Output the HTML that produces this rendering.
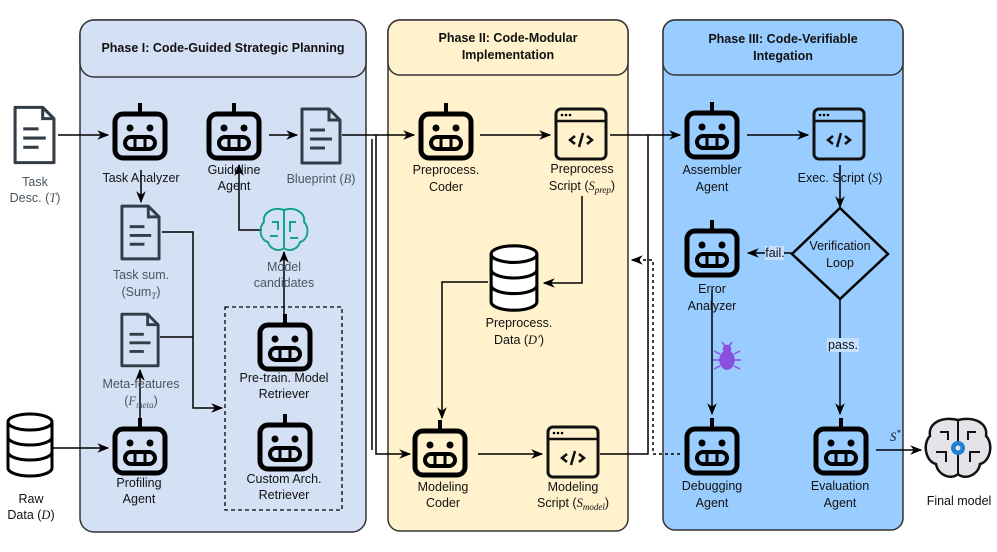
<!DOCTYPE html>
<html><head><meta charset="utf-8"><style>
html,body{margin:0;padding:0;background:#fff;overflow:hidden;}
svg{display:block;}
svg text{font-family:"Liberation Sans",sans-serif;font-size:12.5px;fill:#111;}
.g text{fill:#4a5561;}
.h{font-weight:bold;font-size:12.5px;}
.i{font-family:"Liberation Serif",serif;font-style:italic;}
</style></head><body>
<svg width="997" height="552" viewBox="0 0 997 552" xmlns="http://www.w3.org/2000/svg">
<defs>
<symbol id="rb" viewBox="0 0 56 58">
<line x1="28" y1="0" x2="28" y2="11" stroke="#000" stroke-width="4"/>
<rect x="3" y="11" width="50" height="44" rx="8" fill="none" stroke="#000" stroke-width="5"/>
<circle cx="18" cy="25" r="3.5"/><circle cx="38" cy="25" r="3.5"/>
<rect x="13" y="34" width="30" height="12" rx="6" fill="none" stroke="#000" stroke-width="4"/>
<line x1="23" y1="35" x2="23" y2="45" stroke="#000" stroke-width="3"/><line x1="33" y1="35" x2="33" y2="45" stroke="#000" stroke-width="3"/>
</symbol>
<symbol id="doc" viewBox="0 0 44 60">
<path d="M3 3 H30 L41 14 V57 H3 Z" fill="none" stroke="#333d47" stroke-width="3" stroke-linejoin="round"/>
<path d="M30 3 V14 H41" fill="none" stroke="#333d47" stroke-width="3"/>
<line x1="11" y1="24" x2="26" y2="24" stroke="#333d47" stroke-width="3"/>
<line x1="11" y1="33" x2="33" y2="33" stroke="#333d47" stroke-width="3"/>
<line x1="11" y1="42" x2="26" y2="42" stroke="#333d47" stroke-width="3"/>
</symbol>
<symbol id="scr" viewBox="0 0 54 54">
<rect x="2" y="2" width="50" height="50" rx="5" fill="none" stroke="#111" stroke-width="3"/>
<line x1="2" y1="14" x2="52" y2="14" stroke="#111" stroke-width="2.5"/>
<circle cx="8" cy="8" r="1.3"/><circle cx="12" cy="8" r="1.3"/><circle cx="16" cy="8" r="1.3"/>
<path d="M21 29 L16 33 L21 37 M33 29 L38 33 L33 37 M29 26 L25 40" fill="none" stroke="#111" stroke-width="2.5"/>
</symbol>
<symbol id="db" viewBox="0 0 50 66">
<path d="M3 10 V56 A22 8 0 0 0 47 56 V10" fill="#fff" stroke="#000" stroke-width="3"/>
<ellipse cx="25" cy="10" rx="22" ry="8" fill="#fff" stroke="#000" stroke-width="3"/>
<path d="M3 25 A22 8 0 0 0 47 25 M3 40 A22 8 0 0 0 47 40" fill="none" stroke="#000" stroke-width="3"/>
</symbol>
<marker id="ar" viewBox="0 0 10 10" refX="9" refY="5" markerWidth="8" markerHeight="8" orient="auto-start-reverse"><path d="M0 1 L10 5 L0 9 L3 5 Z" fill="#000"/></marker>
</defs>

<rect x="80" y="20" width="286" height="512" rx="14" fill="#d4e1f5" stroke="#333" stroke-width="1.5"/>
<rect x="80" y="20" width="286" height="57" rx="14" fill="#d4e1f5" stroke="#333" stroke-width="1.5"/>
<text x="223" y="52" text-anchor="middle" class="h">Phase I: Code-Guided Strategic Planning</text>
<rect x="388" y="20" width="240" height="511" rx="12" fill="#fff2cc" stroke="#333" stroke-width="1.5"/>
<rect x="388" y="20" width="240" height="55" rx="12" fill="#fff2cc" stroke="#333" stroke-width="1.5"/>
<text x="508" y="42" text-anchor="middle" class="h">Phase II: Code-Modular</text>
<text x="508" y="59" text-anchor="middle" class="h">Implementation</text>
<rect x="663" y="20" width="240" height="510" rx="12" fill="#99ccff" stroke="#333" stroke-width="1.5"/>
<rect x="663" y="20" width="240" height="55" rx="12" fill="#99ccff" stroke="#333" stroke-width="1.5"/>
<text x="783" y="43" text-anchor="middle" class="h">Phase III: Code-Verifiable</text>
<text x="783" y="60" text-anchor="middle" class="h">Integation</text>

<rect x="225" y="307" width="117" height="203" fill="none" stroke="#000" stroke-width="1.3" stroke-dasharray="4 3"/>

<g stroke="#000" stroke-width="1.5" fill="none">
<line x1="58" y1="135" x2="108" y2="135" marker-end="url(#ar)"/>
<line x1="141" y1="170" x2="141" y2="202" marker-end="url(#ar)"/>
<polyline points="162,232 193,232 193,408 222,408" marker-end="url(#ar)"/>
<line x1="160" y1="337" x2="193" y2="337"/>
<line x1="140" y1="418" x2="140" y2="370" marker-end="url(#ar)"/>
<line x1="52" y1="448" x2="108" y2="448" marker-end="url(#ar)"/>
<line x1="284" y1="314" x2="284" y2="252" marker-end="url(#ar)"/>
<polyline points="262,230 239,230 239,165" marker-end="url(#ar)"/>
<line x1="269" y1="135" x2="297" y2="135" marker-end="url(#ar)"/>
<line x1="342" y1="135" x2="414" y2="135" marker-end="url(#ar)"/>
<polyline points="376,135 376,454 410,454" marker-end="url(#ar)"/>
<line x1="372" y1="139" x2="372" y2="450" />
<line x1="480" y1="135" x2="550" y2="135" marker-end="url(#ar)"/>
<polyline points="582,196 582,283 544,283" marker-end="url(#ar)"/>
<polyline points="488,282 442,282 442,418" marker-end="url(#ar)"/>
<line x1="478" y1="454" x2="542" y2="454" marker-end="url(#ar)"/>
<line x1="610" y1="135" x2="680" y2="135" marker-end="url(#ar)"/>
<polyline points="600,454 648,454 648,135"/>
<line x1="747" y1="135" x2="808" y2="135" marker-end="url(#ar)"/>
<line x1="840" y1="165" x2="840" y2="207" marker-end="url(#ar)"/>
<line x1="792" y1="253" x2="748" y2="253" marker-end="url(#ar)"/>
<line x1="712" y1="290" x2="712" y2="414" marker-end="url(#ar)"/>
<line x1="840" y1="300" x2="840" y2="414" marker-end="url(#ar)"/>
<line x1="876" y1="450" x2="921" y2="450" marker-end="url(#ar)"/>
<polyline points="680,454 653,454 653,260 632,260" stroke-dasharray="3 3" marker-end="url(#ar)"/>
</g>

<polygon points="840,208 888,254 840,299 792,254" fill="#99ccff" stroke="#000" stroke-width="2.5"/>
<text x="840" y="250" text-anchor="middle">Verification</text>
<text x="840" y="267" text-anchor="middle">Loop</text>
<rect x="765" y="246" width="19" height="14" fill="#c6e0ff"/>
<text x="775" y="257" text-anchor="middle" font-size="11">fail.</text>
<rect x="827" y="338" width="32" height="14" fill="#c6e0ff"/>
<text x="843" y="349" text-anchor="middle" font-size="11">pass.</text>

<use href="#doc" x="12" y="104" width="45" height="62"/>
<use href="#doc" x="299" y="106" width="44" height="60"/>
<use href="#doc" x="119" y="203" width="43" height="59"/>
<use href="#doc" x="119" y="311" width="42" height="58"/>
<use href="#db" x="5" y="412" width="50" height="66"/>
<use href="#db" x="488" y="243" width="52" height="70"/>
<use href="#rb" x="112" y="103" width="56" height="58"/>
<use href="#rb" x="206" y="103" width="56" height="58"/>
<use href="#rb" x="257" y="314" width="56" height="58"/>
<use href="#rb" x="257" y="414" width="56" height="58"/>
<use href="#rb" x="112" y="418" width="56" height="58"/>
<use href="#rb" x="418" y="103" width="56" height="58"/>
<use href="#rb" x="412" y="420" width="56" height="58"/>
<use href="#rb" x="684" y="102" width="56" height="58"/>
<use href="#rb" x="684" y="220" width="56" height="58"/>
<use href="#rb" x="684" y="418" width="56" height="58"/>
<use href="#rb" x="813" y="418" width="56" height="58"/>
<use href="#scr" x="554" y="107" width="54" height="54"/>
<use href="#scr" x="546" y="425" width="54" height="54"/>
<use href="#scr" x="812" y="107" width="54" height="54"/>

<g stroke="#14a38a" stroke-width="2" fill="none">
<path d="M284 210 C272 206 262 214 264 222 C258 228 260 240 268 242 C270 250 280 252 284 248 Z"/>
<path d="M284 210 C296 206 306 214 304 222 C310 228 308 240 300 242 C298 250 288 252 284 248"/>
<path d="M272 222 h6 v8 M296 222 h-6 v10 M270 236 h8 M298 238 h-8"/>
</g>
<g fill="#8b4fe0" stroke="#8b4fe0" stroke-width="1.5">
<ellipse cx="727" cy="360" rx="7" ry="9"/>
<circle cx="727" cy="349" r="3.5"/>
<path d="M720 354 l-6 -3 M720 360 h-7 M720 366 l-6 3 M734 354 l6 -3 M734 360 h7 M734 366 l6 3 M725 346 l-3 -4 M729 346 l3 -4" fill="none"/>
</g>
<g stroke="#111" stroke-width="2.5" fill="#e4e4e8">
<path d="M958 420 C940 416 928 424 930 436 C922 444 926 462 936 464 C938 476 952 480 958 474 C964 480 978 476 980 464 C990 462 994 444 986 436 C988 424 976 416 958 420 Z"/>
<path d="M958 420 V474 M940 432 h8 v8 M976 432 h-8 v8 M936 452 h10 v10 M980 452 h-10 v10" fill="none" stroke-width="2"/>
</g>
<circle cx="958" cy="448" r="7" fill="#1e7fd6"/><circle cx="958" cy="448" r="2.5" fill="#e4e4e8"/>

<g class="g">
<text x="35" y="186" text-anchor="middle">Task</text>
<text x="35" y="202" text-anchor="middle">Desc. (<tspan class="i">T</tspan>)</text>
<text x="321" y="183" text-anchor="middle">Blueprint (<tspan class="i">B</tspan>)</text>
<text x="141" y="279" text-anchor="middle">Task sum.</text>
<text x="141" y="296" text-anchor="middle">(Sum<tspan font-size="9" dy="3" class="i">T</tspan><tspan dy="-3">)</tspan></text>
<text x="141" y="388" text-anchor="middle">Meta-features</text>
<text x="141" y="405" text-anchor="middle">(<tspan class="i">F</tspan><tspan class="i" font-size="9" dy="3">meta</tspan><tspan dy="-3">)</tspan></text>
<text x="284" y="271" text-anchor="middle">Model</text>
<text x="284" y="287" text-anchor="middle">candidates</text>
</g>
<text x="141" y="182" text-anchor="middle">Task Analyzer</text>
<text x="234" y="174" text-anchor="middle">Guideline</text>
<text x="234" y="190" text-anchor="middle">Agent</text>
<text x="284" y="382" text-anchor="middle">Pre-train. Model</text>
<text x="284" y="398" text-anchor="middle">Retriever</text>
<text x="284" y="483" text-anchor="middle">Custom Arch.</text>
<text x="284" y="499" text-anchor="middle">Retriever</text>
<text x="139" y="487" text-anchor="middle">Profiling</text>
<text x="139" y="503" text-anchor="middle">Agent</text>
<text x="31" y="503" text-anchor="middle">Raw</text>
<text x="31" y="519" text-anchor="middle">Data (<tspan class="i">D</tspan>)</text>
<text x="446" y="174" text-anchor="middle">Preprocess.</text>
<text x="446" y="191" text-anchor="middle">Coder</text>
<text x="582" y="173" text-anchor="middle">Preprocess</text>
<text x="582" y="190" text-anchor="middle">Script (<tspan class="i">S</tspan><tspan class="i" font-size="9" dy="3">prep</tspan><tspan dy="-3">)</tspan></text>
<text x="519" y="327" text-anchor="middle">Preprocess.</text>
<text x="519" y="344" text-anchor="middle">Data (<tspan class="i">D′</tspan>)</text>
<text x="443" y="491" text-anchor="middle">Modeling</text>
<text x="443" y="507" text-anchor="middle">Coder</text>
<text x="573" y="491" text-anchor="middle">Modeling</text>
<text x="573" y="507" text-anchor="middle">Script (<tspan class="i">S</tspan><tspan class="i" font-size="9" dy="3">model</tspan><tspan dy="-3">)</tspan></text>
<text x="712" y="174" text-anchor="middle">Assembler</text>
<text x="712" y="191" text-anchor="middle">Agent</text>
<text x="840" y="182" text-anchor="middle">Exec. Script (<tspan class="i">S</tspan>)</text>
<text x="712" y="293" text-anchor="middle">Error</text>
<text x="712" y="310" text-anchor="middle">Analyzer</text>
<text x="712" y="490" text-anchor="middle">Debugging</text>
<text x="712" y="507" text-anchor="middle">Agent</text>
<text x="840" y="490" text-anchor="middle">Evaluation</text>
<text x="840" y="507" text-anchor="middle">Agent</text>
<text x="890" y="441" class="i">S<tspan font-size="9" dy="-5">*</tspan></text>
<text x="959" y="505" text-anchor="middle">Final model</text>
</svg>
</body></html>
